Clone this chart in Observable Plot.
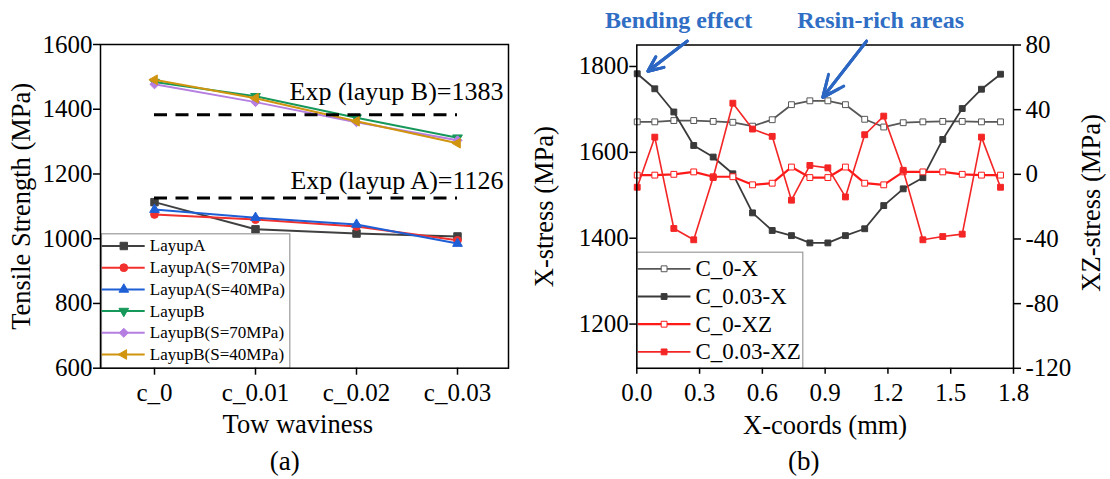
<!DOCTYPE html>
<html>
<head>
<meta charset="utf-8">
<script src="https://cdn.jsdelivr.net/npm/d3@7"></script>
<script src="https://cdn.jsdelivr.net/npm/@observablehq/plot@0.6"></script>
<style>
html, body { margin: 0; padding: 0; background: #fff; }
#wrap { position: relative; width: 1110px; height: 479px; overflow: hidden; background: #fff; }
#wrap > svg { position: absolute; top: 0; }
</style>
</head>
<body>
<div id="wrap"></div>
<script>
// ---------------- Panel (a) data ----------------
const categories = ["c_0", "c_0.01", "c_0.02", "c_0.03"];
const layupA     = [1113, 1029, 1016, 1007];
const layupA_S70 = [1075, 1059, 1038, 995];
const layupA_S40 = [1090, 1065, 1044, 985];
const layupB     = [1484, 1440, 1374, 1312];
const layupB_S70 = [1477, 1422, 1360, 1304];
const layupB_S40 = [1491, 1434, 1363, 1295];
const expLayupB = 1383;
const expLayupA = 1126;
const yTicksA = [600, 800, 1000, 1200, 1400, 1600];

// ---------------- Panel (b) data ----------------
const xCoords = [0.002, 0.086, 0.177, 0.272, 0.365, 0.459, 0.553, 0.647, 0.739, 0.827,
                 0.913, 0.997, 1.089, 1.180, 1.273, 1.367, 1.462, 1.555, 1.647, 1.738];
const c0X   = [1671, 1671, 1674, 1674, 1672, 1670, 1661, 1676, 1711, 1720,
               1720, 1711, 1677, 1659, 1669, 1671, 1672, 1672, 1671, 1671];
const c003X = [1783, 1748, 1694, 1616, 1589, 1550, 1459, 1418, 1406, 1389,
               1389, 1406, 1422, 1476, 1515, 1541, 1630, 1702, 1747, 1782];
const c0XZ  = [-0.5, -0.5, 0, 1.5, -1.5, -1.5, -6.5, -5.5, 4.5, -2,
               -2, 4.5, -5.5, -6.5, 1.5, 1.5, 1.5, 0, -0.5, -0.5];
const c003XZ = [-8, 23, -33.5, -40.5, -2, 44, 28, 23.5, -16, 5.5,
                4, -14, 24.5, 36, 2.5, -40.5, -38.5, -37, 23, -8];
const xTicksB = [0, 0.3, 0.6, 0.9, 1.2, 1.5, 1.8];
const yTicksB = [1200, 1400, 1600, 1800];
const xzTicks = [-120, -80, -40, 0, 40, 80];
const annotationLabels = [
  {label: "Bending effect", x: 0.20},
  {label: "Resin-rich areas", x: 1.165}
];
const annotationArrows = [
  {x1: 0.241, y1: 1859, x2: 0.053, y2: 1789},
  {x1: 1.098, y1: 1859, x2: 0.889, y2: 1728}
];

// ---------------- helpers ----------------
const FONT = "'Liberation Serif', 'Times New Roman', Times, serif";
const hline = (len) => ({draw(ctx) { ctx.moveTo(-len / 2, 0); ctx.lineTo(len / 2, 0); }});
const wrap = document.getElementById("wrap");

// ================= Panel (a) =================
const seriesA = [
  {name: "LayupA",          values: layupA,     color: "#404040", symbol: "square",   r: 4.2, rotate: 0},
  {name: "LayupA(S=70MPa)", values: layupA_S70, color: "#f2302e", symbol: "circle",   r: 3.9, rotate: 0},
  {name: "LayupA(S=40MPa)", values: layupA_S40, color: "#1f5fd6", symbol: "triangle", r: 3.6, rotate: 0},
  {name: "LayupB",          values: layupB,     color: "#16985a", symbol: "triangle", r: 3.6, rotate: 180},
  {name: "LayupB(S=70MPa)", values: layupB_S70, color: "#b57ee0", symbol: "diamond2", r: 4.1, rotate: 0},
  {name: "LayupB(S=40MPa)", values: layupB_S40, color: "#d0940f", symbol: "triangle", r: 3.6, rotate: -90}
];
const marksA = [];
for (const s of seriesA) {
  const rows = categories.map((c, i) => ({cat: c, v: s.values[i]}));
  marksA.push(Plot.line(rows, {x: "cat", y: "v", stroke: s.color, strokeWidth: 2}));
  marksA.push(Plot.dot(rows, {x: "cat", y: "v", symbol: s.symbol, r: s.r, fill: s.color, stroke: s.color, strokeWidth: 1, rotate: s.rotate}));
}
marksA.push(Plot.ruleY([expLayupB, expLayupA], {
  y: d => d, x1: () => categories[0], x2: () => categories[categories.length - 1],
  stroke: "black", strokeWidth: 3, strokeDasharray: "13,8.5"
}));
marksA.push(Plot.text([expLayupB], {y: d => d, text: d => `Exp (layup B)=${d}`, frameAnchor: "right", lineAnchor: "middle", textAnchor: "end", dx: -5, dy: -23, fontSize: 26, fill: "black"}));
marksA.push(Plot.text([expLayupA], {y: d => d, text: d => `Exp (layup A)=${d}`, frameAnchor: "right", lineAnchor: "middle", textAnchor: "end", dx: -5, dy: -17.5, fontSize: 26, fill: "black"}));
// legend box
marksA.push(Plot.frame({insetTop: 189.3, insetRight: 218.7, insetLeft: 1, fill: "white", stroke: "#9a9a9a", strokeWidth: 1.2}));
seriesA.forEach((s, i) => {
  const dy = 201.5 + i * 21.7;
  marksA.push(Plot.dot([0], {frameAnchor: "top-left", dx: 22.7, dy, symbol: hline(43), fill: "none", stroke: s.color, strokeWidth: 2}));
  marksA.push(Plot.dot([0], {frameAnchor: "top-left", dx: 23.3, dy, symbol: s.symbol, r: s.r, fill: s.color, stroke: s.color, strokeWidth: 1, rotate: s.rotate}));
  marksA.push(Plot.text([s.name], {frameAnchor: "top-left", lineAnchor: "middle", dx: 49.3, dy, textAnchor: "start", fontSize: 17, fill: "black"}));
});
marksA.push(Plot.frame({stroke: "black", strokeWidth: 1.5}));
marksA.push(Plot.axisY(yTicksA, {anchor: "left", tickSize: 7, tickPadding: 1, tickFormat: d => String(d), strokeWidth: 1.5, label: null}));
marksA.push(Plot.axisX(categories, {anchor: "bottom", tickSize: 7, tickPadding: 8, strokeWidth: 1.5, label: null}));
marksA.push(Plot.text(["Tensile Strength (MPa)"], {frameAnchor: "left", textAnchor: "middle", lineAnchor: "middle", rotate: -90, dx: -79.4, fontSize: 26.5, fill: "black"}));
marksA.push(Plot.text(["Tow waviness"], {frameAnchor: "bottom", lineAnchor: "middle", dx: -6.7, dy: 56.8, fontSize: 26.5, fill: "black"}));
marksA.push(Plot.text(["(a)"], {frameAnchor: "bottom", lineAnchor: "middle", dx: -19.7, dy: 93.5, fontSize: 27, fill: "black"}));

const plotA = Plot.plot({
  width: 560, height: 479,
  marginLeft: 100, marginRight: 52, marginTop: 44, marginBottom: 111.3,
  style: {fontFamily: FONT, fontSize: "25px", background: "white", color: "black", overflow: "visible"},
  x: {type: "point", domain: categories, padding: 0.513, align: 0.512, axis: null},
  y: {domain: [600, 1600], axis: null},
  marks: marksA
});
plotA.style.left = "0px";
wrap.appendChild(plotA);

// ================= Panel (b) =================
const yLo = 1097, yHi = 1850, xzLo = -120, xzHi = 80;
const k = (yHi - yLo) / (xzHi - xzLo);
const toLeft = v => yLo + (v - xzLo) * k;
const fromLeft = y => (y - yLo) / k + xzLo;

const seriesB = [
  {name: "C_0-X",     values: c0X,    color: "#575757", fill: "white",   width: 1.8, scaled: false},
  {name: "C_0.03-X",  values: c003X,  color: "#3a3a3a", fill: "#3a3a3a", width: 1.8, scaled: false},
  {name: "C_0-XZ",    values: c0XZ,   color: "#ff1a1a", fill: "white",   width: 2.2, scaled: true},
  {name: "C_0.03-XZ", values: c003XZ, color: "#f42525", fill: "#f42525", width: 1.6, scaled: true}
];
const marksB = [];
for (const s of seriesB) {
  const rows = xCoords.map((x, i) => ({x, v: s.scaled ? toLeft(s.values[i]) : s.values[i]}));
  marksB.push(Plot.line(rows, {x: "x", y: "v", stroke: s.color, strokeWidth: s.width}));
  marksB.push(Plot.dot(rows, {x: "x", y: "v", symbol: "square", r: 3.3, fill: s.fill, stroke: s.color, strokeWidth: 1}));
}
// legend box
marksB.push(Plot.frame({insetTop: 207.2, insetRight: 210.7, fill: "white", stroke: "#9a9a9a", strokeWidth: 1.2}));
seriesB.forEach((s, i) => {
  const dy = 223.8 + i * 27.7;
  marksB.push(Plot.dot([0], {frameAnchor: "top-left", dx: 27.3, dy, symbol: hline(52.7), fill: "none", stroke: s.color, strokeWidth: s.width}));
  marksB.push(Plot.dot([0], {frameAnchor: "top-left", dx: 27.3, dy, symbol: "square", r: 3.3, fill: s.fill, stroke: s.color, strokeWidth: 1}));
  marksB.push(Plot.text([s.name], {frameAnchor: "top-left", lineAnchor: "middle", dx: 58.7, dy, textAnchor: "start", fontSize: 23, fill: "black"}));
});
marksB.push(Plot.frame({stroke: "black", strokeWidth: 1.5}));
marksB.push(Plot.axisY(yTicksB, {anchor: "left", tickSize: 7, tickPadding: 1, tickFormat: d => String(d), strokeWidth: 1.5, label: null}));
marksB.push(Plot.axisY(xzTicks.map(toLeft), {anchor: "right", tickSize: 7, tickPadding: 5, tickFormat: d => String(Math.round(fromLeft(d))), strokeWidth: 1.5, label: null}));
marksB.push(Plot.axisX(xTicksB, {anchor: "bottom", tickSize: 6, tickPadding: 9, tickFormat: d => d.toFixed(1), strokeWidth: 1.5, label: null}));
marksB.push(Plot.text(["X-stress (MPa)"], {frameAnchor: "left", textAnchor: "middle", lineAnchor: "middle", rotate: -90, dx: -91.9, fontSize: 26.5, fill: "black"}));
marksB.push(Plot.text(["XZ-stress (MPa)"], {frameAnchor: "right", textAnchor: "middle", lineAnchor: "middle", rotate: -90, dx: 78.5, dy: -3.7, fontSize: 26.5, fill: "black"}));
marksB.push(Plot.text(["X-coords (mm)"], {frameAnchor: "bottom", lineAnchor: "middle", dy: 56.8, fontSize: 26.5, fill: "black"}));
marksB.push(Plot.text(["(b)"], {frameAnchor: "bottom", lineAnchor: "middle", dx: -21.3, dy: 93.5, fontSize: 27, fill: "black"}));
// annotations
for (const h of [13, 9, 5]) {
  marksB.push(Plot.arrow(annotationArrows, {x1: "x1", y1: "y1", x2: "x2", y2: "y2", stroke: "#2b66c2", strokeWidth: 3, headLength: h, headAngle: 48}));
}
marksB.push(Plot.text(annotationLabels, {x: "x", text: "label", frameAnchor: "top", lineAnchor: "middle", dy: -25, fontSize: 24, fontWeight: "bold", fill: "#2f6ec4"}));

const plotB = Plot.plot({
  width: 550, height: 479,
  marginLeft: 76.3, marginRight: 97, marginTop: 44.5, marginBottom: 111.2,
  style: {fontFamily: FONT, fontSize: "25px", background: "white", color: "black", overflow: "visible"},
  x: {domain: [0, 1.8], axis: null},
  y: {domain: [yLo, yHi], axis: null},
  marks: marksB
});
plotB.style.left = "560px";
wrap.appendChild(plotB);
</script>
</body>
</html>
